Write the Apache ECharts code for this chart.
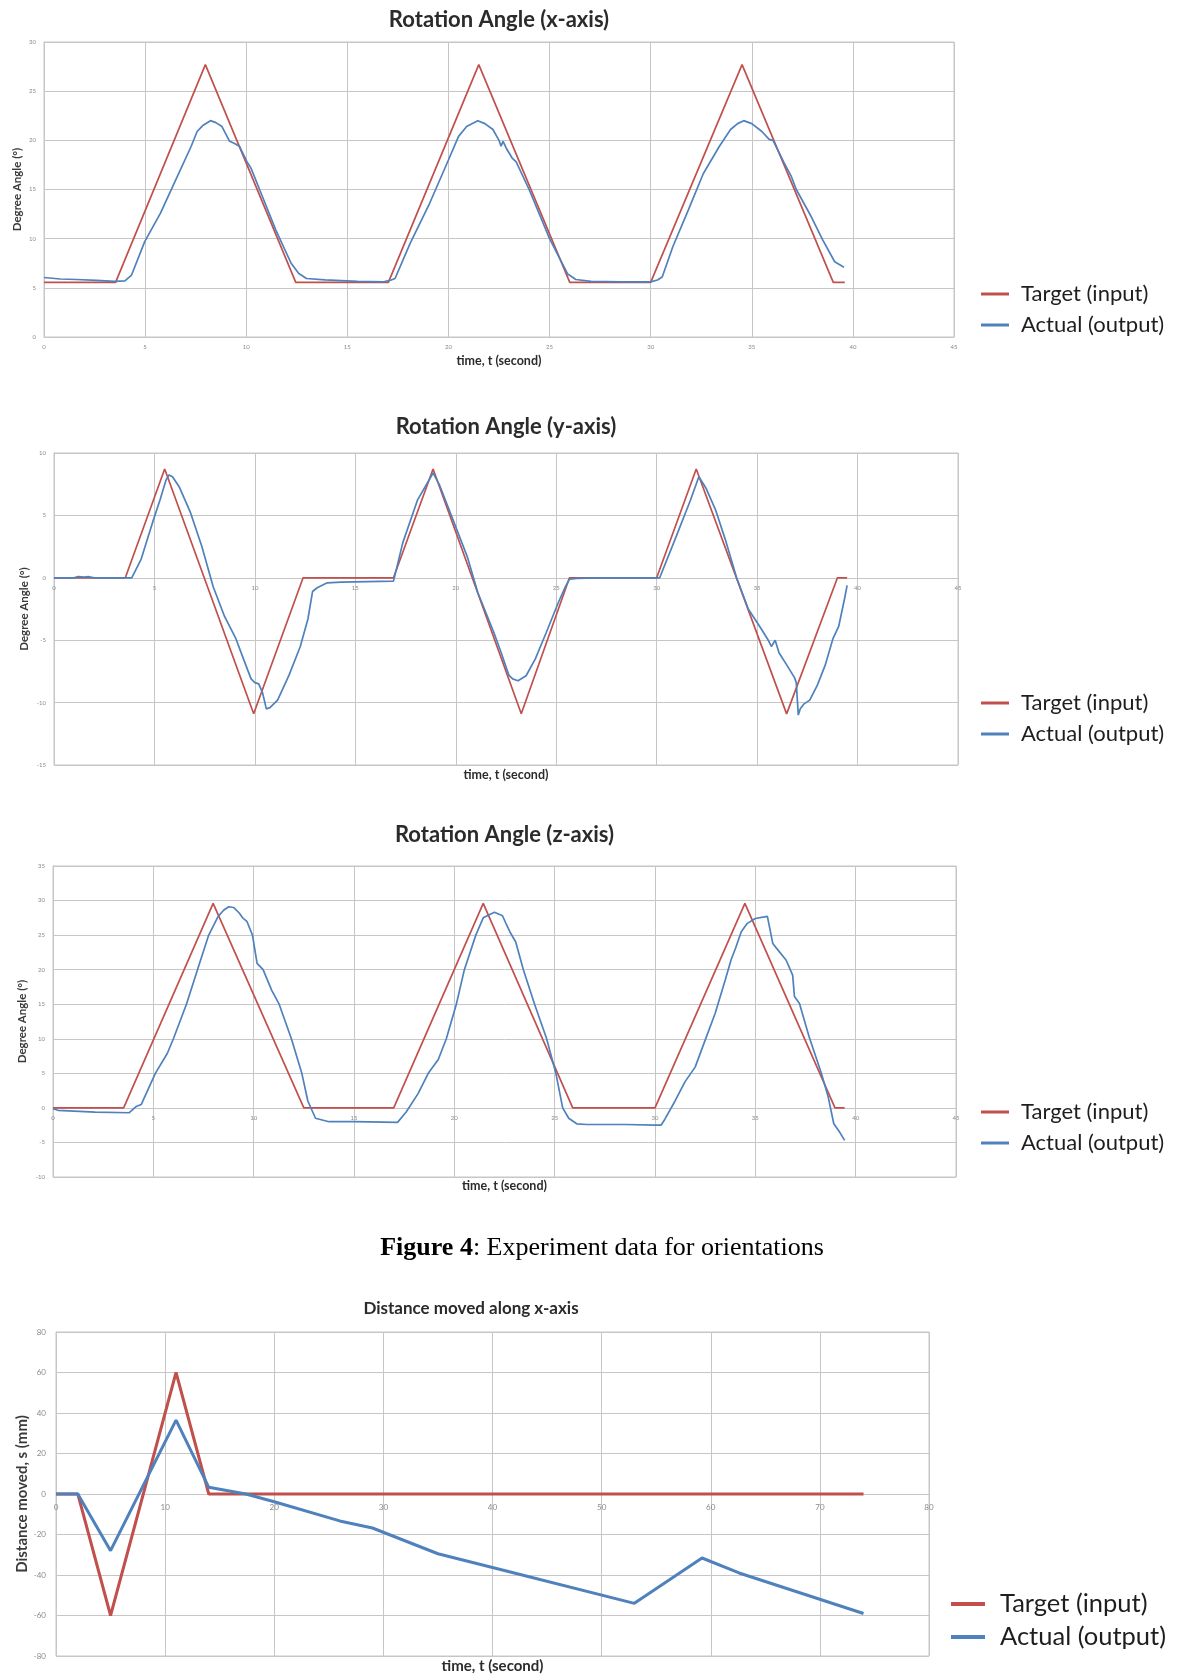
<!DOCTYPE html>
<html>
<head>
<meta charset="utf-8">
<title>Experiment data for orientations</title>
<script src="https://cdn.jsdelivr.net/npm/echarts@6/dist/echarts.min.js"></script>
<style>
  html, body { margin: 0; padding: 0; background: #fff; }
  #chart { width: 1178px; height: 1676px; }
</style>
</head>
<body>
<div id="chart"></div>
<script>
// ---- data: [time (s), value] ----
const rotXTarget = [[0, 5.55], [3.54, 5.55], [7.98, 27.7], [12.45, 5.55], [17.03, 5.55], [21.5, 27.7], [26.0, 5.55], [30.0, 5.55], [34.52, 27.7], [39.03, 5.55], [39.6, 5.55]]
const rotXActual = [[0, 6.05], [0.8, 5.9], [1.6, 5.85], [2.6, 5.75], [3.5, 5.65], [4.0, 5.7], [4.33, 6.3], [4.98, 9.7], [5.76, 12.6], [6.52, 16], [7.28, 19.4], [7.57, 20.9], [7.85, 21.5], [8.23, 22.0], [8.5, 21.8], [8.8, 21.4], [9.18, 19.9], [9.4, 19.7], [9.66, 19.4], [10.04, 17.8], [10.23, 17.2], [10.7, 14.8], [11.46, 10.9], [12.22, 7.5], [12.6, 6.45], [12.98, 5.95], [13.9, 5.8], [15.5, 5.65], [16.8, 5.6], [17.17, 5.8], [17.36, 5.95], [18.1, 9.5], [19.07, 13.6], [20.0, 18.0], [20.5, 20.4], [20.9, 21.4], [21.45, 22.0], [21.8, 21.7], [22.2, 21.1], [22.5, 20.0], [22.6, 19.4], [22.7, 19.9], [22.86, 19.2], [23.15, 18.2], [23.35, 17.8], [24.0, 14.95], [25.0, 10.0], [25.9, 6.4], [26.3, 5.85], [27.05, 5.65], [28.5, 5.6], [30.0, 5.6], [30.34, 5.8], [30.57, 6.1], [31.1, 9.2], [31.86, 12.9], [32.6, 16.6], [33.4, 19.4], [33.95, 21.1], [34.3, 21.7], [34.6, 22.0], [35.0, 21.7], [35.5, 20.9], [35.86, 20.1], [36.05, 20.0], [36.6, 17.7], [36.96, 16.3], [37.2, 15.0], [37.95, 12.2], [38.5, 9.9], [39.1, 7.65], [39.56, 7.1]]

const rotYTarget = [[0, 0], [3.55, 0], [5.51, 8.72], [9.94, -10.9], [12.4, 0], [16.9, 0], [18.87, 8.72], [23.26, -10.9], [25.66, 0], [30.0, 0], [31.97, 8.72], [36.47, -10.9], [39.0, 0], [39.48, 0]]
const rotYActual = [[0, 0], [1.0, 0], [1.2, 0.1], [1.5, 0.05], [1.7, 0.1], [2.0, 0], [3.87, 0], [4.34, 1.5], [4.9, 4.4], [5.28, 6.25], [5.57, 7.8], [5.72, 8.24], [5.9, 8.1], [6.23, 7.3], [6.8, 5.2], [7.36, 2.5], [7.92, -0.7], [8.49, -3.1], [9.06, -4.9], [9.43, -6.5], [9.81, -8.1], [10.0, -8.4], [10.19, -8.5], [10.38, -9.2], [10.57, -10.5], [10.75, -10.4], [11.13, -9.8], [11.7, -7.8], [12.26, -5.5], [12.64, -3.3], [12.87, -1.1], [13.1, -0.8], [13.6, -0.4], [14.3, -0.35], [16.9, -0.27], [17.36, 2.8], [18.1, 6.25], [18.87, 8.4], [19.2, 7.4], [19.8, 4.9], [20.57, 1.7], [21.1, -1.2], [21.9, -4.4], [22.26, -6.0], [22.64, -7.8], [22.83, -8.1], [23.1, -8.25], [23.5, -7.85], [23.96, -6.5], [24.5, -4.4], [25.1, -2.0], [25.47, -0.66], [25.66, -0.1], [26.04, -0.05], [27.0, 0], [30.15, 0], [30.92, 3.1], [31.69, 6.25], [32.1, 8.1], [32.45, 7.2], [32.93, 5.45], [33.41, 3.1], [33.98, 0], [34.56, -2.5], [35.13, -3.9], [35.52, -4.9], [35.71, -5.5], [35.9, -5.0], [36.09, -6.0], [36.48, -7.0], [36.86, -8.0], [36.95, -8.4], [37.05, -11.0], [37.15, -10.5], [37.34, -10.1], [37.62, -9.8], [38.0, -8.6], [38.39, -7.0], [38.77, -4.9], [39.06, -3.9], [39.35, -1.7], [39.48, -0.6]]

const rotZTarget = [[0, 0], [3.52, 0], [7.98, 29.6], [12.5, 0], [16.98, 0], [21.44, 29.6], [25.9, 0], [30.0, 0], [34.48, 29.6], [38.97, 0], [39.45, 0]]
const rotZActual = [[0, -0.1], [0.25, -0.35], [2.1, -0.6], [3.8, -0.7], [4.14, 0.2], [4.4, 0.5], [5.1, 5], [5.7, 7.9], [6.0, 10], [6.65, 15], [7.2, 20], [7.76, 25], [8.23, 27.7], [8.5, 28.6], [8.76, 29.1], [9.0, 29.0], [9.28, 28.2], [9.45, 27.5], [9.66, 27.0], [9.94, 25.0], [10.17, 20.9], [10.47, 20.0], [10.9, 17.0], [11.27, 15.0], [11.88, 10.0], [12.4, 5.0], [12.7, 1.0], [13.08, -1.5], [13.75, -2.0], [15.0, -2.0], [17.17, -2.1], [17.6, -0.6], [18.2, 2.1], [18.7, 5.0], [19.2, 7.0], [19.6, 10.0], [20.1, 15.0], [20.5, 20.0], [21.07, 25.0], [21.44, 27.5], [22.0, 28.3], [22.4, 27.8], [22.6, 26.5], [22.8, 25.3], [23.06, 24.0], [23.44, 20.0], [24.0, 15.0], [24.6, 10.0], [25.06, 5.0], [25.4, 0], [25.7, -1.5], [26.1, -2.3], [26.6, -2.4], [28.5, -2.4], [30.0, -2.5], [30.3, -2.5], [30.5, -1.6], [31.0, 1.0], [31.5, 3.8], [32.0, 5.9], [32.5, 9.8], [33.0, 13.7], [33.5, 18.5], [33.8, 21.5], [34.0, 23.0], [34.3, 25.5], [34.6, 26.7], [35.0, 27.4], [35.6, 27.7], [35.87, 23.8], [36.0, 23.3], [36.53, 21.4], [36.86, 19.2], [36.95, 16.1], [37.2, 15.1], [37.68, 10.3], [38.29, 5.0], [38.63, 1.6], [38.91, -2.3], [39.2, -3.5], [39.45, -4.7]]

const distTarget = [[0, 0], [2, 0], [5, -60], [11, 60], [14, 0], [74, 0]]
const distActual = [[0, 0], [2, 0], [5, -28], [11, 36.5], [14, 3.3], [17.4, 0], [20, -3.8], [26, -13.3], [29, -16.8], [35, -29.5], [40, -36.3], [53, -54], [59.2, -31.6], [62.6, -39], [74, -59]]

// axis ranges [min, max, interval]
const rotTimeTicks = [0, 45, 5]
const rotXTicks = [0, 30, 5]
const rotYTicks = [-15, 10, 5]
const rotZTicks = [-10, 35, 5]
const distTimeTicks = [0, 80, 10]
const distTicks = [-80, 80, 20]

const seriesNames = ['Target (input)', 'Actual (output)']
const titles = ['Rotation Angle (x-axis)', 'Rotation Angle (y-axis)', 'Rotation Angle (z-axis)', 'Distance moved along x-axis']
const yNames = ['Degree Angle (°)', 'Degree Angle (°)', 'Degree Angle (°)', 'Distance moved, s (mm)']
const xName = 'time, t (second)'

const FONT = 'Lato, "Open Sans", "DejaVu Sans", sans-serif'
const SERIF = '"Liberation Serif", "Times New Roman", serif'
const RED = '#c0504d'
const BLUE = '#4f81bd'
const GRID = '#c6c6c6'

// layout of the four panels
const panels = [
  { grid: { left: 44, top: 42, width: 910, height: 295 }, x: rotTimeTicks, y: rotXTicks, data: [rotXTarget, rotXActual],
    titleY: 20, xNameY: 361, yGap: 21, legend: { left: 981, top: 283 }, big: false },
  { grid: { left: 54, top: 453, width: 904, height: 312 }, x: rotTimeTicks, y: rotYTicks, data: [rotYTarget, rotYActual],
    titleY: 427, xNameY: 775, yGap: 24, legend: { left: 981, top: 692 }, big: false },
  { grid: { left: 53, top: 866, width: 903, height: 311 }, x: rotTimeTicks, y: rotZTicks, data: [rotZTarget, rotZActual],
    titleY: 835, xNameY: 1186, yGap: 25, legend: { left: 981, top: 1101 }, big: false },
  { grid: { left: 56, top: 1332, width: 873, height: 324 }, x: distTimeTicks, y: distTicks, data: [distTarget, distActual],
    titleY: 1309, titleX: 471, xNameY: 1666, yGap: 26, legend: { left: 951, top: 1591 }, big: true }
]

// x axis sits on the y = 0 line
const zeroOffset = p => p.y[0] < 0 ? -p.grid.height * (0 - p.y[0]) / (p.y[1] - p.y[0]) : 0

const chart = echarts.init(document.getElementById('chart'), null, { renderer: 'canvas' })

const tickLabel = big => ({ fontSize: big ? 8 : 6, color: '#8a8a8a', fontFamily: FONT })

const option = {
  animation: false,
  backgroundColor: '#fff',
  grid: panels.map(p => Object.assign({ show: true, borderColor: GRID, borderWidth: 1, containLabel: false }, p.grid)),
  xAxis: panels.map((p, i) => ({
    type: 'value', gridIndex: i, min: p.x[0], max: p.x[1], interval: p.x[2],
    position: 'bottom', offset: zeroOffset(p),
    axisLine: { onZero: false, lineStyle: { color: GRID, width: 1 } },
    axisTick: { show: false },
    axisLabel: Object.assign({ margin: p.big ? 9 : 7, showMinLabel: true, showMaxLabel: true }, tickLabel(p.big)),
    splitLine: { show: true, lineStyle: { color: GRID, width: 1 } }
  })),
  yAxis: panels.map((p, i) => ({
    type: 'value', gridIndex: i, min: p.y[0], max: p.y[1], interval: p.y[2],
    name: yNames[i], nameLocation: 'middle', nameGap: p.yGap, nameRotate: 90, nameMoveOverlap: false,
    nameTextStyle: { fontFamily: FONT, fontWeight: 'bold', fontSize: p.big ? 15 : 11.5, color: '#3a3a3a' },
    axisLine: { show: true, lineStyle: { color: GRID, width: 1 } },
    axisTick: { show: false },
    axisLabel: Object.assign({ margin: p.big ? 10 : 8, showMinLabel: true, showMaxLabel: true }, tickLabel(p.big)),
    splitLine: { show: true, lineStyle: { color: GRID, width: 1 } }
  })),
  legend: panels.map(p => ({
    orient: 'vertical', left: p.legend.left, top: p.legend.top, padding: 0,
    icon: 'rect', itemWidth: p.big ? 34 : 28, itemHeight: p.big ? 4 : 3, itemGap: p.big ? 7 : 9,
    selectedMode: false,
    textStyle: { fontFamily: FONT, fontSize: p.big ? 25.5 : 22, lineHeight: p.big ? 26 : 22, color: '#1e1e1e', padding: [0, 0, 0, p.big ? 10 : 7] },
    data: seriesNames
  })),
  series: panels.flatMap((p, i) => p.data.map((d, k) => ({
    name: seriesNames[k], type: 'line', xAxisIndex: i, yAxisIndex: i,
    data: d, symbol: 'none', smooth: false,
    lineStyle: { color: k === 0 ? RED : BLUE, width: p.big ? 3 : 1.7 },
    itemStyle: { color: k === 0 ? RED : BLUE }
  }))),
  graphic: [
    ...panels.map((p, i) => ({
      type: 'text', x: p.titleX || (p.grid.left + p.grid.width / 2), y: p.titleY,
      style: { text: titles[i], fill: '#2b2b2b', fontFamily: FONT, fontWeight: 'bold', fontSize: p.big ? 17 : 22,
        align: 'center', verticalAlign: 'middle', textAlign: 'center', textVerticalAlign: 'middle' }
    })),
    ...panels.map(p => ({
      type: 'text', x: p.grid.left + p.grid.width / 2, y: p.xNameY,
      style: { text: xName, fill: '#2b2b2b', fontFamily: FONT, fontWeight: 'bold', fontSize: p.big ? 15 : 12.5,
        align: 'center', verticalAlign: 'middle', textAlign: 'center', textVerticalAlign: 'middle' }
    })),
    {
      type: 'text', x: 602, y: 1248,
      style: {
        text: '{b|Figure 4}: Experiment data for orientations',
        fill: '#000', fontFamily: SERIF, fontSize: 26,
        align: 'center', verticalAlign: 'middle', textAlign: 'center', textVerticalAlign: 'middle',
        rich: { b: { fontWeight: 'bold', fontFamily: SERIF, fontSize: 26, fill: '#000' } }
      }
    }
  ]
}

chart.setOption(option)
window.addEventListener('resize', () => chart.resize())
</script>
</body>
</html>
